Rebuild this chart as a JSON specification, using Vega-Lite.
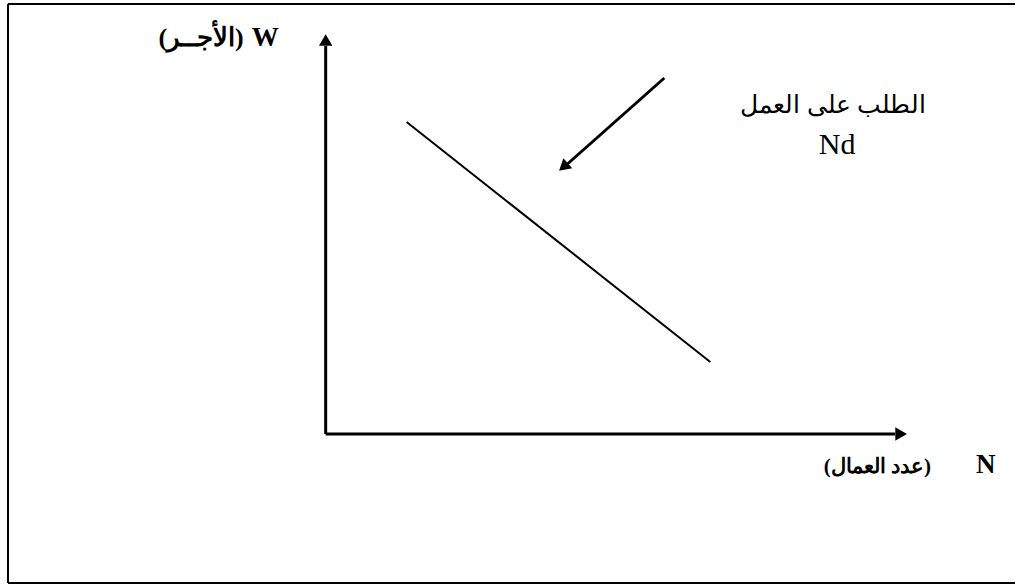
{
  "$schema": "https://vega.github.io/schema/vega-lite/v6.json",
  "width": 1016,
  "height": 585,
  "padding": 0,
  "autosize": {"type": "fit", "contains": "padding"},
  "background": "white",
  "config": {"view": {"stroke": null}},
  "datasets": {
    "frame": [
      {"x": 8, "y": 4, "x2": 1016, "y2": 4},
      {"x": 8, "y": 4, "x2": 8, "y2": 583},
      {"x": 8, "y": 583, "x2": 1016, "y2": 583}
    ],
    "lines": [
      {"name": "yaxis", "x": 326, "y": 434, "x2": 326, "y2": 46, "w": 3},
      {"name": "xaxis", "x": 326, "y": 434, "x2": 896, "y2": 434, "w": 3},
      {"name": "demand", "x": 407, "y": 122, "x2": 711, "y2": 362, "w": 2},
      {"name": "pointer", "x": 665, "y": 78, "x2": 568, "y2": 164, "w": 3}
    ],
    "heads": [
      {"x": 326, "y": 40, "angle": 0},
      {"x": 902, "y": 434, "angle": 90},
      {"x": 564, "y": 167, "angle": 228.5}
    ],
    "centerLabels": [
      {"text": "الطلب على العمل", "x": 834, "y": 113, "size": 25},
      {"text": "Nd", "x": 838, "y": 154, "size": 30}
    ],
    "leftLabels": [
      {"text": "W", "x": 252, "y": 46, "size": 27},
      {"text": "N", "x": 977, "y": 473, "size": 27}
    ],
    "rightLabels": [
      {"text": "(الأجــر)", "x": 244, "y": 46, "size": 26},
      {"text": "(عدد العمال)", "x": 932, "y": 473, "size": 21}
    ]
  },
  "layer": [
    {
      "data": {"name": "frame"},
      "mark": {"type": "rule", "color": "black", "strokeWidth": 2},
      "encoding": {
        "x": {"field": "x", "type": "quantitative", "scale": {"domain": [0, 1016], "nice": false, "zero": false}, "axis": null},
        "x2": {"field": "x2"},
        "y": {"field": "y", "type": "quantitative", "scale": {"domain": [0, 585], "nice": false, "zero": false, "reverse": true}, "axis": null},
        "y2": {"field": "y2"}
      }
    },
    {
      "data": {"name": "lines"},
      "mark": {"type": "rule", "color": "black"},
      "encoding": {
        "x": {"field": "x", "type": "quantitative"},
        "x2": {"field": "x2"},
        "y": {"field": "y", "type": "quantitative"},
        "y2": {"field": "y2"},
        "strokeWidth": {"field": "w", "type": "quantitative", "scale": null}
      }
    },
    {
      "data": {"name": "heads"},
      "mark": {"type": "point", "shape": "triangle-up", "filled": true, "color": "black", "size": 180, "opacity": 1},
      "encoding": {
        "x": {"field": "x", "type": "quantitative"},
        "y": {"field": "y", "type": "quantitative"},
        "angle": {"field": "angle", "type": "quantitative", "scale": null}
      }
    },
    {
      "data": {"name": "centerLabels"},
      "mark": {"type": "text", "font": "Liberation Serif", "color": "black", "baseline": "alphabetic", "align": "center"},
      "encoding": {
        "x": {"field": "x", "type": "quantitative"},
        "y": {"field": "y", "type": "quantitative"},
        "text": {"field": "text"},
        "size": {"field": "size", "type": "quantitative", "scale": null}
      }
    },
    {
      "data": {"name": "leftLabels"},
      "mark": {"type": "text", "font": "Liberation Serif", "fontWeight": "bold", "color": "black", "baseline": "alphabetic", "align": "left"},
      "encoding": {
        "x": {"field": "x", "type": "quantitative"},
        "y": {"field": "y", "type": "quantitative"},
        "text": {"field": "text"},
        "size": {"field": "size", "type": "quantitative", "scale": null}
      }
    },
    {
      "data": {"name": "rightLabels"},
      "mark": {"type": "text", "font": "Liberation Serif", "fontWeight": "bold", "color": "black", "baseline": "alphabetic", "align": "right"},
      "encoding": {
        "x": {"field": "x", "type": "quantitative"},
        "y": {"field": "y", "type": "quantitative"},
        "text": {"field": "text"},
        "size": {"field": "size", "type": "quantitative", "scale": null}
      }
    }
  ]
}
